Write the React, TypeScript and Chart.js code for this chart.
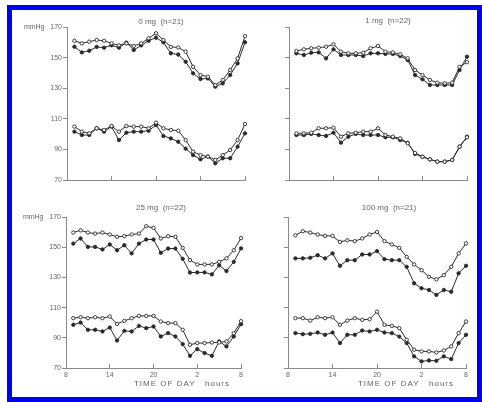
import React, { useEffect, useRef } from "react";
import { Chart, registerables } from "chart.js";

Chart.register(...registerables);

// hours of day (9h .. 8h next day, expressed as 9..32)
const HOURS = [9, 10, 11, 12, 13, 14, 15, 16, 17, 18, 19, 20, 21, 22, 23, 24, 25, 26, 27, 28, 29, 30, 31, 32];
const X_TICKS = [8, 14, 20, 26, 32];
const X_TICK_LABELS = ["8", "14", "20", "2", "8"];
const Y_TICKS = [70, 90, 110, 130, 150, 170];
const Y_TICK_LABELS = ["70", "90", "110", "130", "150", "mmHg   170"];

const TITLES = ["0 mg  (n=21)", "1 mg  (n=22)", "25 mg  (n=22)", "100 mg  (n=21)"];
const X_TITLE = "TIME OF DAY   hours";

// 0 mg
const P0_SYS_OPEN = [161, 159.3, 160.4, 161.5, 161, 159.3, 158, 159.3, 157.6, 159.3, 162.6, 165.9, 161.5, 157, 156.6, 153.9, 144, 138.6, 137.5, 132, 135.4, 141.9, 149.5, 164];
const P0_SYS_FILL = [157.1, 153.4, 154.5, 157, 156.5, 158, 156.5, 159.8, 155, 158, 161, 163, 160, 152.8, 152, 147.3, 139.7, 136, 136.4, 131, 133.2, 138.6, 146.2, 160];
const P0_DIA_OPEN = [104.9, 101.6, 100.5, 103.8, 102.7, 105.3, 101.6, 105.3, 104.9, 104.9, 103.8, 107.5, 103.8, 102.7, 102.2, 96.1, 88.5, 86.3, 85.3, 83.1, 86.3, 89.6, 96.1, 106.6];
const P0_DIA_FILL = [101.6, 99.4, 99.4, 103.8, 101.6, 104.9, 96.1, 100.9, 101.6, 101.6, 102.2, 105.9, 98.8, 97.2, 95, 90.5, 86.3, 83.5, 85.3, 80.9, 84.2, 84.2, 91.8, 100.5];

// 1 mg
const P1_SYS_OPEN = [154.3, 155.4, 156.1, 156.5, 157.1, 158.7, 153.9, 152.8, 152.8, 153.2, 156.1, 157.6, 153.9, 153.4, 152.1, 149.5, 141.9, 138.6, 135.4, 133.6, 133.2, 133.6, 144, 147];
const P1_SYS_FILL = [152.8, 151.7, 153.2, 153.4, 149.5, 155.4, 151.7, 151.7, 151.7, 151, 152.8, 152.8, 152.4, 152.4, 151, 148.4, 138.6, 135.8, 132.1, 132.1, 132.1, 132.1, 141.9, 150.6];
const P1_DIA_OPEN = [100.5, 100.5, 100.9, 103.8, 103.8, 104.2, 98.3, 100.5, 100.9, 101.6, 101.6, 103.8, 99.4, 98.3, 97.2, 94, 87.6, 85.2, 83.5, 82, 82, 83.1, 91.8, 97.9];
const P1_DIA_FILL = [99.4, 99.4, 100.1, 99.4, 98.8, 100.9, 94.4, 98.3, 100.1, 99.4, 99.4, 99.4, 97.9, 97.9, 96.1, 94.4, 87, 85.2, 83.5, 82, 82, 83.1, 91.8, 98.3];

// 25 mg
const P25_SYS_OPEN = [159.7, 161.2, 159.7, 159, 159.7, 158.4, 156.9, 157.3, 158.4, 159, 163.9, 162.8, 155.8, 157.3, 156.9, 149.5, 141.5, 138.6, 138.6, 138.6, 140.3, 142.6, 148, 156];
const P25_SYS_FILL = [152.4, 155.8, 150.2, 150.2, 148.5, 151.8, 148, 151.3, 145.9, 152.4, 155.1, 155.1, 146.3, 149.1, 149.1, 142.3, 133.2, 133.3, 133.3, 132, 138, 134.2, 140.3, 149.2];
const P25_DIA_OPEN = [103, 103.6, 103, 103.6, 103, 104.1, 99.2, 101.2, 103, 104.5, 104.5, 104.5, 100.8, 99.7, 99.7, 95.3, 85.4, 86.5, 86.5, 86.9, 86.9, 87.6, 93, 101];
const P25_DIA_FILL = [98.6, 100.1, 95.3, 95.3, 94.2, 96.8, 88.2, 94.6, 94.2, 97.9, 96.4, 97.5, 90.9, 93.1, 90.9, 85.8, 78.1, 82.5, 79.9, 78.1, 87.6, 84.3, 90.9, 99];

// 100 mg
const P100_SYS_OPEN = [157.9, 160.6, 159.7, 158.4, 157.5, 157.5, 153.5, 154.6, 154, 155.8, 158.4, 160.1, 154, 151.8, 149.6, 143.6, 138.6, 134.8, 130.4, 128.7, 131.5, 137, 145.9, 152.5];
const P100_SYS_FILL = [142.6, 142.6, 143, 144.7, 142.6, 145.9, 137.7, 141.4, 141.4, 145.2, 145.2, 147.4, 142.1, 141.4, 141.4, 137, 126.1, 122.8, 121.7, 118.4, 121.7, 120.5, 132.7, 137.7];
const P100_DIA_OPEN = [103, 103, 101.4, 103.6, 103, 103.6, 98.6, 101.4, 103, 101.9, 102.3, 107.3, 98.6, 97.9, 96.4, 88.7, 82.1, 81, 81, 80.3, 81.6, 84.3, 93.1, 100.8];
const P100_DIA_FILL = [93.1, 92.4, 92.6, 93.5, 92, 93.5, 86.5, 92, 92, 94.8, 94.2, 95.3, 93.5, 93.1, 90.8, 86.5, 77.7, 74.4, 75, 74.8, 77.7, 75.9, 86.5, 92];

type PanelCfg = {
  left: number; top: number; w: number; h: number;
  yW: number; xH: number; padTop: number; padRight: number;
  showX: boolean; showY: boolean;
  series: number[][];
};

const PANELS: PanelCfg[] = [
  { left: 12, top: 12, w: 238, h: 186, yW: 55, xH: 18, padTop: 15, padRight: 5, showX: false, showY: true,
    series: [P0_SYS_OPEN, P0_SYS_FILL, P0_DIA_OPEN, P0_DIA_FILL] },
  { left: 255, top: 12, w: 220, h: 186, yW: 34, xH: 18, padTop: 15, padRight: 8, showX: false, showY: false,
    series: [P1_SYS_OPEN, P1_SYS_FILL, P1_DIA_OPEN, P1_DIA_FILL] },
  { left: 12, top: 200, w: 238, h: 195, yW: 54, xH: 27, padTop: 17, padRight: 6, showX: true, showY: true,
    series: [P25_SYS_OPEN, P25_SYS_FILL, P25_DIA_OPEN, P25_DIA_FILL] },
  { left: 255, top: 200, w: 220, h: 195, yW: 33, xH: 27, padTop: 17, padRight: 8, showX: true, showY: false,
    series: [P100_SYS_OPEN, P100_SYS_FILL, P100_DIA_OPEN, P100_DIA_FILL] },
];

const FONT = "'Liberation Sans', Arial, sans-serif";
const AXIS = "#8a8a8a";
const INK = "#2a2a2a";
const TEXT = "#666666";

function makeDataset(vals: number[], filled: boolean) {
  return {
    data: HOURS.map((h, i) => ({ x: h, y: vals[i] })),
    borderColor: INK,
    borderWidth: 1,
    pointRadius: 1.7,
    pointBorderWidth: 0.9,
    pointBackgroundColor: filled ? INK : "#ffffff",
    pointBorderColor: INK,
    tension: 0,
    fill: false,
    clip: false as any,
  };
}

function Panel({ cfg }: { cfg: PanelCfg }) {
  const ref = useRef<HTMLCanvasElement>(null);
  useEffect(() => {
    const chart = new Chart(ref.current as HTMLCanvasElement, {
      type: "line",
      data: {
        datasets: [
          makeDataset(cfg.series[0], false),
          makeDataset(cfg.series[1], true),
          makeDataset(cfg.series[2], false),
          makeDataset(cfg.series[3], true),
        ],
      },
      options: {
        responsive: false,
        animation: false,
        events: [],
        layout: { padding: { top: cfg.padTop, right: cfg.padRight, left: 0, bottom: 0 } },
        plugins: { legend: { display: false }, tooltip: { enabled: false }, title: { display: false } },
        scales: {
          x: {
            type: "linear",
            min: 8,
            max: 32,
            afterBuildTicks: (s: any) => { s.ticks = X_TICKS.map((v) => ({ value: v })); },
            afterFit: (s: any) => { s.height = cfg.xH; },
            grid: { drawOnChartArea: false, drawTicks: true, tickLength: -4, color: AXIS, lineWidth: 1 },
            border: { display: true, color: AXIS, width: 1 },
            ticks: {
              display: cfg.showX,
              padding: 7,
              autoSkip: false,
              maxRotation: 0,
              color: TEXT,
              font: { size: 7, family: FONT },
              callback: (v: any) => {
                const i = X_TICKS.indexOf(Number(v));
                return i >= 0 ? X_TICK_LABELS[i] : "";
              },
            },
          },
          y: {
            type: "linear",
            min: 70,
            max: 170,
            afterBuildTicks: (s: any) => { s.ticks = Y_TICKS.map((v) => ({ value: v })); },
            afterFit: (s: any) => { s.width = cfg.yW; },
            grid: { drawOnChartArea: false, drawTicks: true, tickLength: 4, color: AXIS, lineWidth: 1 },
            border: { display: true, color: AXIS, width: 1 },
            ticks: {
              display: cfg.showY,
              padding: 1,
              color: TEXT,
              font: { size: 7, family: FONT },
              callback: (v: any) => {
                const i = Y_TICKS.indexOf(Number(v));
                return i >= 0 ? Y_TICK_LABELS[i] : "";
              },
            },
          },
        },
      } as any,
    });
    return () => chart.destroy();
  }, []);
  return (
    <canvas
      ref={ref}
      width={cfg.w}
      height={cfg.h}
      style={{ position: "absolute", left: cfg.left, top: cfg.top, width: cfg.w, height: cfg.h }}
    />
  );
}

function Label({ text, cx, cy, size, spacing }: { text: string; cx: number; cy: number; size: number; spacing?: number }) {
  return (
    <div
      style={{
        position: "absolute",
        left: cx - 80,
        top: cy - size / 2,
        width: 160,
        textAlign: "center",
        fontFamily: FONT,
        fontSize: size,
        lineHeight: `${size}px`,
        color: TEXT,
        letterSpacing: spacing ? spacing : 0,
        whiteSpace: "pre",
      }}
    >
      {text}
    </div>
  );
}

export default function App() {
  return (
    <div
      style={{
        position: "fixed",
        left: 0,
        top: 0,
        width: 482,
        height: 402,
        background: "#ffffff",
        overflow: "hidden",
        filter: "blur(0.4px)",
      }}
    >
      <div
        style={{
          position: "absolute",
          left: 7,
          top: 5,
          right: 0,
          bottom: 0,
          border: "5px solid #0000f0",
          boxSizing: "border-box",
        }}
      />
      {PANELS.map((p, i) => (
        <Panel key={i} cfg={p} />
      ))}
      <Label text={TITLES[0]} cx={161} cy={22} size={8} />
      <Label text={TITLES[1]} cx={388} cy={21} size={8} />
      <Label text={TITLES[2]} cx={161} cy={208} size={8} />
      <Label text={TITLES[3]} cx={389} cy={208} size={8} />
      <Label text={X_TITLE} cx={182} cy={384} size={8} spacing={1} />
      <Label text={X_TITLE} cx={406} cy={384} size={8} spacing={1} />
    </div>
  );
}
